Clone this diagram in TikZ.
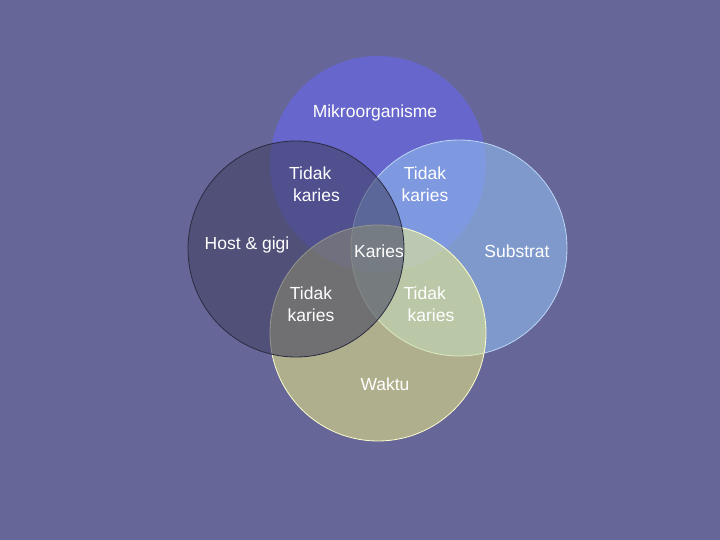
\documentclass[tikz,border=0pt]{standalone}
\usepackage{fontspec}
\setmainfont{Liberation Sans}
\definecolor{bgblue}{RGB}{102,102,153}
\definecolor{mikroc}{RGB}{102,102,204}
\definecolor{substratc}{RGB}{144,187,238}
\definecolor{waktuc}{RGB}{248,248,133}
\definecolor{hostc}{RGB}{62,62,93}
\begin{document}
\begin{tikzpicture}[x=1pt, y=-1pt,
  venn/.style={circle, minimum size=216pt, inner sep=0pt},
  lbl/.style={text=white, align=center, font=\fontsize{17.5}{21.5}\selectfont}]
\fill[bgblue](0,0) rectangle (720,540);
% circles
\node[venn, fill=mikroc] (mikro) at (378,164) {};
\node[venn, fill=substratc, fill opacity=0.6, draw=substratc!60!white, line width=0.8pt] (substrat) at (459,248) {};
\node[venn, fill=waktuc, fill opacity=0.5, draw=waktuc!40!white, line width=0.8pt] (waktu) at (378,333) {};
\node[venn, fill=hostc, fill opacity=0.55, draw=hostc!70!black, line width=0.8pt] (host) at (296,249) {};
% labels
\node[lbl] (tmikro) at (375,113) {Mikroorganisme};
\node[lbl] (thost) at (247,245) {Host \& gigi};
\node[lbl] (tsubstrat) at (517,251) {Substrat};
\node[lbl] (twaktu) at (385,384) {Waktu};
\node[lbl] (tkaries) at (379,251) {Karies};
\node[lbl, align=left] (tmh) at (314.5,184) {Tidak\\\hspace{4pt}karies};
\node[lbl] (tms) at (425,184) {Tidak\\karies};
\node[lbl] (thw) at (311,304) {Tidak\\karies};
\node[lbl, align=left] (tsw) at (429,304) {Tidak\\\hspace{4pt}karies};
\end{tikzpicture}
\end{document}
